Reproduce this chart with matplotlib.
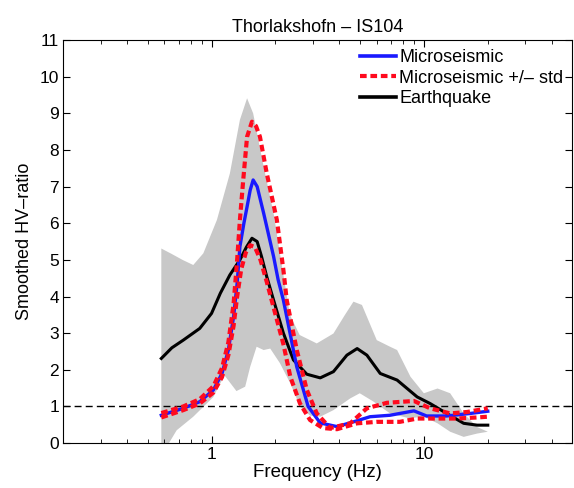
import matplotlib
matplotlib.use('Agg')
import matplotlib.pyplot as plt
import numpy as np

plt.rcParams['font.family'] = ['Liberation Sans', 'DejaVu Sans']

# grey band (earthquake +/- std)
band_f_up = [0.58, 0.65, 0.73, 0.82, 0.915, 1.06, 1.22, 1.36, 1.47, 1.57, 1.76, 1.96, 2.15, 2.34,
             2.6, 3.13, 3.75, 4.25, 4.66, 5.11, 6.0, 6.93, 7.48, 8.65, 10.0, 11.6, 13.3, 15.4, 17.8, 20.0]
band_up = [5.31, 5.16, 5.0, 4.86, 5.18, 6.09, 7.36, 8.82, 9.41, 9.0, 7.54, 6.27, 4.8, 3.5,
           2.95, 2.72, 2.99, 3.5, 3.86, 3.77, 2.81, 2.63, 2.54, 1.81, 1.36, 1.49, 1.36, 0.81, 0.44, 0.31]
band_f_lo = [0.58, 0.63, 0.685, 0.82, 1.02, 1.15, 1.31, 1.44, 1.52, 1.63, 1.76, 1.89, 2.1, 2.35,
             2.61, 2.91, 3.25, 3.75, 4.5, 4.99, 5.8, 6.93, 8.5, 10.0, 11.6, 13.3, 15.4, 17.8, 20.0]
band_lo = [0.0, 0.0, 0.35, 0.72, 1.26, 1.85, 1.42, 1.54, 2.08, 2.63, 2.54, 2.58, 2.18, 1.63,
           1.0, 0.75, 0.72, 0.9, 1.22, 1.36, 1.13, 0.81, 0.68, 0.72, 0.54, 0.31, 0.17, 0.26, 0.31]

# earthquake
eq_f = [0.58, 0.65, 0.736, 0.88, 1.0, 1.1, 1.22, 1.36, 1.46, 1.55, 1.64, 1.72, 1.82, 1.96, 2.18,
        2.43, 2.81, 3.25, 3.75, 4.34, 4.85, 5.39, 6.23, 7.48, 9.3, 10.7, 12.8, 15.4, 17.8, 20.0]
eq = [2.31, 2.6, 2.81, 3.13, 3.54, 4.09, 4.59, 5.0, 5.35, 5.59, 5.5, 5.09, 4.54, 3.9, 3.0,
      2.27, 1.88, 1.78, 1.95, 2.4, 2.58, 2.4, 1.9, 1.72, 1.26, 1.08, 0.81, 0.54, 0.49, 0.49]

# microseismic mean
ms_f = [0.58, 0.736, 0.88, 1.02, 1.12, 1.2, 1.27, 1.32, 1.36, 1.42, 1.47, 1.52, 1.57, 1.64, 1.76,
        1.96, 2.06, 2.18, 2.52, 2.85, 3.25, 3.9, 4.66, 5.58, 6.93, 8.98, 10.3, 12.8, 16.6, 20.0]
ms = [0.76, 0.95, 1.13, 1.45, 1.9, 2.54, 3.45, 4.36, 5.36, 6.0, 6.45, 6.9, 7.18, 7.0, 6.27,
      5.09, 4.45, 3.9, 2.08, 1.0, 0.55, 0.45, 0.58, 0.72, 0.76, 0.88, 0.74, 0.74, 0.81, 0.87]

# microseismic + std
msu_f = [0.58, 0.736, 0.88, 1.02, 1.12, 1.2, 1.27, 1.32, 1.36, 1.41, 1.47, 1.55, 1.62, 1.69, 1.82,
         2.03, 2.18, 2.26, 2.52, 2.81, 3.13, 3.62, 4.5, 5.39, 6.7, 8.98, 10.7, 13.3, 16.0, 20.0]
msu = [0.82, 1.0, 1.2, 1.55, 2.05, 2.75, 3.8, 5.0, 6.09, 7.18, 8.36, 8.77, 8.65, 8.36, 7.36,
       6.09, 4.72, 3.9, 2.54, 1.45, 0.81, 0.41, 0.54, 0.95, 1.1, 1.15, 0.95, 0.81, 0.85, 0.95]

# microseismic - std
msl_f = [0.58, 0.736, 0.88, 1.02, 1.12, 1.2, 1.27, 1.32, 1.38, 1.45, 1.52, 1.6, 1.7, 1.82, 1.96,
         2.18, 2.35, 2.61, 2.91, 3.35, 3.9, 4.85, 6.0, 7.7, 9.3, 11.1, 14.3, 17.8, 20.0]
msl = [0.7, 0.9, 1.08, 1.38, 1.8, 2.4, 3.2, 4.0, 4.75, 5.2, 5.4, 5.35, 5.0, 4.4, 3.7,
       2.7, 1.81, 1.08, 0.63, 0.41, 0.38, 0.54, 0.58, 0.58, 0.67, 0.67, 0.67, 0.7, 0.72]

fig = plt.figure(figsize=(5.74, 4.88), dpi=100)
ax = fig.add_axes([0.11, 0.092, 0.887, 0.826])

# band polygon: upper edge forward, lower edge back
poly_x = list(band_f_up) + list(band_f_lo[::-1])
poly_y = list(band_up) + list(band_lo[::-1])
ax.fill(poly_x, poly_y, color='#c8c8c8', lw=0, zorder=1)

red_dash = (0, (1.6, 0.9))
ax.axhline(1, color='k', ls=(0, (5, 3)), lw=1, zorder=2)
ax.plot(eq_f, eq, 'k', lw=2.2, zorder=3)
ax.plot(ms_f, ms, color='#1a1aff', lw=2.4, zorder=4)
ax.plot(msu_f, msu, color='#ff0a1e', lw=3, ls=red_dash, zorder=5)
ax.plot(msl_f, msl, color='#ff0a1e', lw=3, ls=red_dash, zorder=5)

# legend handles
h1, = ax.plot([], [], color='#1a1aff', lw=2.6, label='Microseismic')
h2, = ax.plot([], [], color='#ff0a1e', lw=3, ls=red_dash, label='Microseismic +/\u2013 std')
h3, = ax.plot([], [], 'k', lw=2.6, label='Earthquake')
ax.legend(handles=[h1, h2, h3], loc='upper right', frameon=False, fontsize=13,
          handlelength=1.95, handletextpad=0.2, labelspacing=0.2, borderaxespad=0.1,
          bbox_to_anchor=(1.0, 1.0))

ax.set_xscale('log')
ax.set_xlim(0.2, 50)
ax.set_ylim(0, 11)
ax.set_yticks(range(0, 12))
ax.set_xticks([1, 10])
ax.set_xticklabels(['1', '10'])
ax.tick_params(which='both', direction='in', top=True, right=True, labelsize=12.5)
ax.tick_params(which='major', length=5, pad=3)
ax.tick_params(which='minor', length=3)
ax.set_xlabel('Frequency (Hz)', fontsize=13.5, labelpad=1)
ax.set_ylabel('Smoothed HV\u2013ratio', fontsize=13, labelpad=5)
ax.set_title('Thorlakshofn \u2013 IS104', fontsize=13, pad=6)

fig.savefig('out.png', dpi=100)
